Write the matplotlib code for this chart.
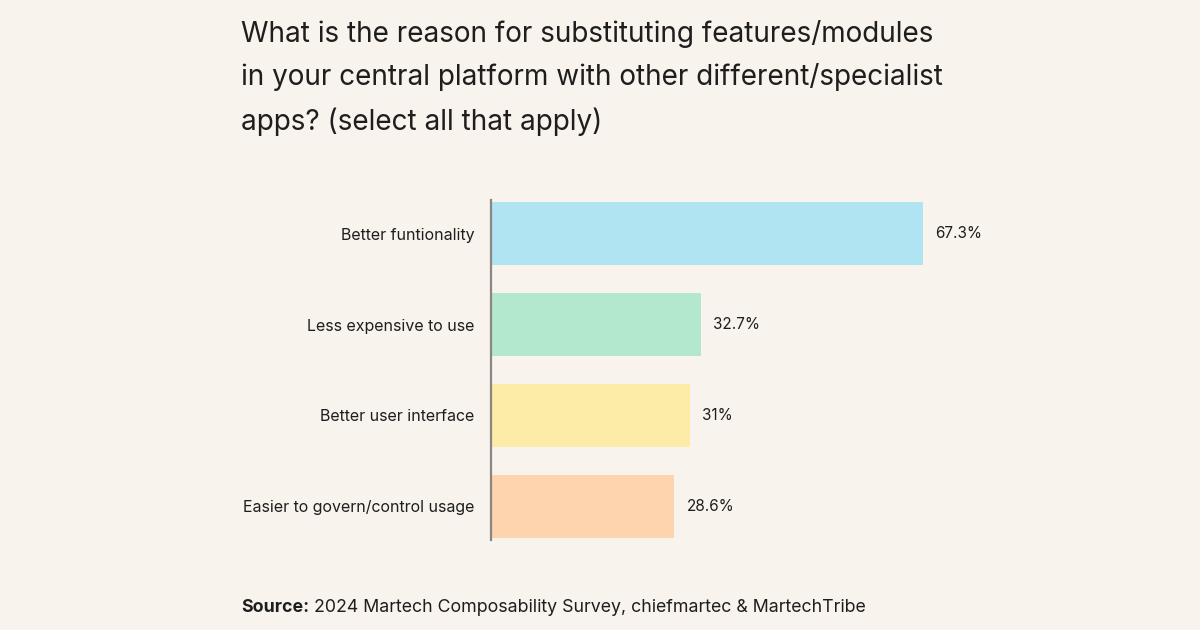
import matplotlib
matplotlib.use("Agg")
import matplotlib.pyplot as plt

plt.rcParams['font.family'] = ['Inter', 'DejaVu Sans']

# data
categories = ["Better funtionality", "Less expensive to use",
              "Better user interface", "Easier to govern/control usage"]
values = [67.3, 32.7, 31, 28.6]
value_labels = ["67.3%", "32.7%", "31%", "28.6%"]
bar_colors = ["#B1E4F2", "#B3E8CD", "#FDEBA8", "#FED4AE"]

BG = "#F8F3EC"
TEXT = "#1E1E1E"

fig = plt.figure(figsize=(12, 6.3), dpi=100, facecolor=BG)
ax = fig.add_axes([491 / 1200, 1 - 540 / 630, 513 / 1200, 340 / 630])
ax.set_facecolor(BG)

ypos = list(range(len(categories)))
ax.barh(ypos, values, height=0.7, color=bar_colors, zorder=2)
ax.set_xlim(0, 80)
ax.set_ylim(3.37, -0.37)

# labels on bars
for y, v, lab in zip(ypos, values, value_labels):
    ax.text(v + 1.9, y, lab, va='center', ha='left', fontsize=11, color=TEXT)

ax.set_yticks(ypos)
ax.set_yticklabels(categories, fontsize=11.5, color=TEXT)
ax.tick_params(axis='y', length=0, pad=12)
ax.set_xticks([])
for s in ['top', 'right', 'bottom']:
    ax.spines[s].set_visible(False)
ax.spines['left'].set_color('#8A8782')
ax.spines['left'].set_linewidth(1.6)
ax.spines['left'].set_zorder(3)

# title
fig.text(241 / 1200, 1 - 20 / 630,
         "What is the reason for substituting features/modules\n"
         "in your central platform with other different/specialist\n"
         "apps? (select all that apply)",
         ha='left', va='top', fontsize=20.1, color=TEXT, linespacing=1.7)

# source
src = fig.text(241 / 1200, 1 - 612 / 630, "Source:", ha='left', va='baseline',
               fontsize=12.8, fontweight='bold', color=TEXT)
fig.canvas.draw()
bb = src.get_window_extent()
fig.text((bb.x1 + 5) / 1200, 1 - 612 / 630,
         "2024 Martech Composability Survey, chiefmartec & MartechTribe",
         ha='left', va='baseline', fontsize=12.8, color=TEXT)

fig.savefig("out.png", dpi=100, facecolor=BG)
